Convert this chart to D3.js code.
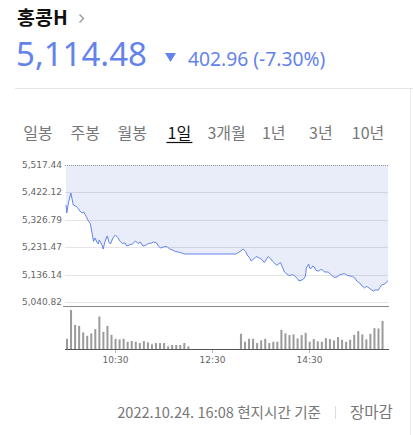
<!DOCTYPE html>
<html>
<head>
<meta charset="utf-8">
<script src="https://cdn.jsdelivr.net/npm/d3@7"></script>
<style>
  body { margin: 0; background: #fff; }
  svg { display: block; font-family: "Noto Sans CJK KR", "Noto Sans", sans-serif; }
</style>
</head>
<body>
<div id="chart"></div>
<script>
// header
const title = "홍콩H";
const lastPrice = "5,114.48";
const change = "402.96 (-7.30%)";
const tabs = ["일봉", "주봉", "월봉", "1일", "3개월", "1년", "3년", "10년"];
const activeTab = "1일";
const footerDate = "2022.10.24. 16:08 현지시간 기준";
const footerStatus = "장마감";

// price line (intraday)
const priceTimes = ["09:30","09:31","09:33","09:36","09:39","09:42","09:45","09:47","09:50","09:52",
  "09:55","09:57","10:00","10:02","10:04","10:06","10:08","10:10","10:11","10:14",
  "10:16","10:18","10:21","10:23","10:25","10:28","10:31","10:34","10:37","10:40",
  "10:43","10:45","10:48","10:52","10:56","10:59","11:02","11:05","11:08","11:12",
  "11:16","11:18","11:22","11:24","11:27","11:30","11:35","11:38","11:42","11:45",
  "11:49","11:53","11:56","12:00","13:00","13:06","13:09","13:12","13:14","13:17",
  "13:19","13:22","13:25","13:29","13:32","13:35","13:38","13:40","13:43","13:45",
  "13:50","13:52","13:55","13:57","14:00","14:03","14:06","14:10","14:12","14:16",
  "14:18","14:23","14:26","14:27","14:30","14:31","14:33","14:35","14:37","14:39",
  "14:42","14:45","14:47","14:50","14:54","14:58","15:02","15:05","15:08","15:12",
  "15:14","15:18","15:21","15:24","15:27","15:30","15:33","15:36","15:39","15:41",
  "15:43","15:46","15:50","15:52","15:56","15:58","16:00","16:04","16:06","16:08"];
const prices = [5378.3,5350.4,5385.2,5420.0,5378.3,5374.8,5366.1,5357.4,5350.4,5353.9,
  5338.3,5326.1,5313.9,5284.4,5251.3,5263.5,5249.6,5242.6,5256.5,5242.6,
  5225.2,5249.6,5270.6,5249.6,5242.6,5263.5,5273.9,5265.2,5251.3,5244.3,
  5246.1,5235.6,5239.1,5242.6,5253.0,5244.3,5249.6,5235.6,5237.4,5244.3,
  5246.1,5249.6,5246.1,5235.6,5228.7,5232.2,5233.9,5225.2,5221.7,5216.5,
  5214.8,5211.3,5207.8,5207.8,5207.8,5218.2,5225.2,5216.5,5204.3,5193.9,
  5183.4,5190.4,5199.1,5193.9,5188.7,5178.2,5190.4,5199.1,5190.4,5183.4,
  5169.5,5171.3,5178.2,5166.0,5145.1,5138.2,5132.9,5136.4,5132.9,5122.5,
  5113.8,5119.0,5131.2,5159.0,5172.9,5159.0,5157.3,5166.0,5162.6,5150.3,
  5148.6,5153.8,5152.1,5145.1,5145.1,5134.7,5126.0,5127.7,5134.7,5138.2,
  5139.9,5132.9,5131.2,5129.5,5124.3,5112.1,5106.9,5096.4,5089.5,5094.7,
  5092.9,5086.0,5079.0,5082.5,5082.5,5091.2,5099.9,5103.4,5110.4,5114.48];

// 5-minute volume bars (relative units)
const amStart = "09:30";
const amVolumes = [10.3,39.3,24.3,23.3,16.7,13.3,15.7,20,32.7,17.3,
  23.3,14.3,10.3,9.7,10.3,7.3,8,7.3,6,8,
  6.7,4.7,6,6,6,2.7,4,4,4,6,2.7];
const pmStart = "13:05";
const pmVolumes = [15.3,7.3,10.3,10.3,6,8.7,10.3,6,7.3,7.3,
  19.3,15.7,14,14.7,10.7,14,16.3,7.3,10,7.7,
  7.3,11,10,8.7,12,9.3,7.3,9.3,14.3,18,
  14.7,9.7,15.3,21,20.7,28.3];

const yTicks = [5517.44, 5422.12, 5326.79, 5231.47, 5136.14, 5040.82];
const timeTicks = ["10:30", "12:30", "14:30"];

const W = 413, H = 435;
const blue = "#6483ea";
const parse = d3.timeParse("%H:%M");

const svg = d3.select("#chart")
  .append("svg")
    .attr("width", W)
    .attr("height", H);

// ---- header ----
svg.append("text").attr("x", 17).attr("y", 25).text(title)
  .style("font-size", "19.5px").style("font-weight", "bold").attr("fill", "#111");
svg.append("path").attr("d", "M79.5,14.5 L83.5,18.5 L79.5,22.5")
  .attr("fill", "none").attr("stroke", "#999").attr("stroke-width", 1.4);

svg.append("text").attr("x", 16).attr("y", 66).text(lastPrice)
  .style("font-family", "'Noto Sans', sans-serif")
  .style("font-size", "33px").attr("fill", blue);
svg.append("path").attr("d", "M165,53 L176,53 L170.5,62 Z").attr("fill", blue);
svg.append("text").attr("x", 188).attr("y", 66).text(change)
  .style("font-family", "'Noto Sans', sans-serif")
  .style("font-size", "19.3px").attr("fill", blue);

svg.append("line").attr("x1", 15).attr("x2", W).attr("y1", 88.5).attr("y2", 88.5)
  .attr("stroke", "#e6e6e6");
svg.append("line").attr("x1", 410.5).attr("x2", 410.5).attr("y1", 89).attr("y2", H)
  .attr("stroke", "#ececec");

// ---- tabs ----
const tabScale = d3.scalePoint().domain(tabs).range([38, 368]);
svg.append("g").selectAll("text")
  .data(tabs)
  .join("text")
    .attr("x", d => tabScale(d))
    .attr("y", 139)
    .attr("text-anchor", "middle")
    .style("font-size", "16px")
    .attr("fill", d => d === activeTab ? "#111" : "#777")
    .text(d => d);
svg.append("line")
  .attr("x1", tabScale(activeTab) - 13).attr("x2", tabScale(activeTab) + 13)
  .attr("y1", 142.5).attr("y2", 142.5).attr("stroke", "#111").attr("stroke-width", 1.2);

// ---- price chart ----
const left = 65, right = 388;
const x = d3.scaleTime()
    .domain([parse("09:30"), parse("16:08")])
    .range([66, 388]);

const y = d3.scaleLinear()
    .domain([5040.82, 5517.44])
    .range([302, 165]);

const series = priceTimes.map((t, i) => ({ t: parse(t), v: prices[i] }));

const area = d3.area()
    .x(d => x(d.t))
    .y0(y(5517.44))
    .y1(d => y(d.v));

svg.append("path").datum(series)
  .attr("d", area).attr("fill", "#e9edfa");

// grid lines
svg.append("g").selectAll("line")
  .data(yTicks.slice(1))
  .join("line")
    .attr("x1", left).attr("x2", right)
    .attr("y1", d => Math.round(y(d)) + 0.5).attr("y2", d => Math.round(y(d)) + 0.5)
    .attr("stroke", "rgba(0,0,0,0.1)");
svg.append("line")
  .attr("x1", left).attr("x2", right)
  .attr("y1", y(5517.44) + 0.5).attr("y2", y(5517.44) + 0.5)
  .attr("stroke", "#999").attr("stroke-dasharray", "1,1");

const line = d3.line()
    .x(d => x(d.t))
    .y(d => y(d.v));

svg.append("path").datum(series)
  .attr("d", line)
  .attr("fill", "none")
  .attr("stroke", blue)
  .attr("stroke-width", 1)
  .attr("stroke-linejoin", "round");

// y labels
svg.append("g").selectAll("text")
  .data(yTicks)
  .join("text")
    .attr("x", 62)
    .attr("y", d => y(d) + 3)
    .attr("text-anchor", "end")
    .style("font-family", "'DejaVu Sans', sans-serif")
    .style("font-size", "9px")
    .attr("fill", "#666")
    .text(d => d3.format(",.2f")(d));

svg.append("line").attr("x1", 63).attr("x2", 389).attr("y1", 306.5).attr("y2", 306.5)
  .attr("stroke", "#888");

// ---- volume ----
const step = 5 * 60 * 1000;
const bars = amVolumes.map((v, i) => ({ t: new Date(+parse(amStart) + i * step), v }))
  .concat(pmVolumes.map((v, i) => ({ t: new Date(+parse(pmStart) + i * step), v })));

const vy = d3.scaleLinear()
    .domain([0, d3.max(bars, d => d.v)])
    .range([349, 310]);

svg.append("g").selectAll("rect")
  .data(bars)
  .join("rect")
    .attr("x", d => x(d.t))
    .attr("y", d => vy(d.v))
    .attr("width", 2)
    .attr("height", d => 349 - vy(d.v))
    .attr("fill", "#9a9a9a");

svg.append("line").attr("x1", left).attr("x2", 389).attr("y1", 349.5).attr("y2", 349.5)
  .attr("stroke", "#555");

const xt = svg.append("g").selectAll("g")
  .data(timeTicks)
  .join("g")
    .attr("transform", d => `translate(${Math.round(x(parse(d))) + 0.5},0)`);
xt.append("line").attr("y1", 350).attr("y2", 353).attr("stroke", "#bbb");
xt.append("text")
  .attr("y", 363)
  .attr("text-anchor", "middle")
  .style("font-family", "'DejaVu Sans', sans-serif")
  .style("font-size", "9px")
  .attr("fill", "#666")
  .text(d => d);

// ---- footer ----
svg.append("text").attr("x", 321).attr("y", 418).attr("text-anchor", "end")
  .style("font-size", "14.6px").attr("fill", "#777")
  .text(footerDate);
svg.append("line").attr("x1", 335.5).attr("x2", 335.5).attr("y1", 406).attr("y2", 419)
  .attr("stroke", "#ddd");
svg.append("text").attr("x", 350).attr("y", 418)
  .style("font-size", "15.5px").attr("fill", "#777")
  .text(footerStatus);
</script>
</body>
</html>
